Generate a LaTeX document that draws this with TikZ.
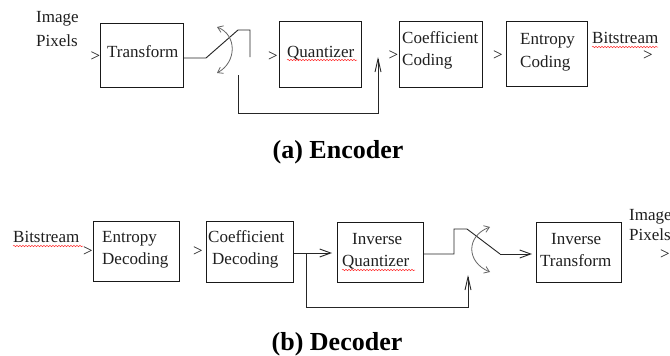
\documentclass[tikz,border=0pt]{standalone}
\usepackage{fontspec}
\setmainfont{Liberation Serif}
\usetikzlibrary{arrows.meta,decorations.pathmorphing}
\begin{document}
\begin{tikzpicture}[x=1pt,y=-1pt,
  box/.style={draw=black!90, line width=1.1pt, inner sep=0pt, anchor=north west},
  txt/.style={inner sep=0pt, anchor=base west, font=\fontsize{17}{20}\selectfont, text=black!88},
  gt/.style={inner sep=0pt, anchor=center, font=\fontsize{17}{20}\selectfont, text=black!90},
  capt/.style={inner sep=0pt, anchor=base, font=\fontsize{26}{30}\selectfont\bfseries, text=black},
  wire/.style={draw=black!85, line width=0.9pt},
  varrow/.style={wire, -{Straight Barb[length=13pt,width=6pt]}},
  harrow/.style={wire, -{Straight Barb[length=11pt,width=8pt]}},
  swarc/.style={draw=black!60, line width=0.8pt, {Straight Barb[length=5pt,width=7pt]}-{Straight Barb[length=5pt,width=7pt]}},
  squig/.style={draw=red!80, line width=0.5pt, decorate, decoration={snake, segment length=3pt, amplitude=0.7pt}}
]
\useasboundingbox (0,0) rectangle (670,356);
\clip (0,0) rectangle (670,356);
\fill[white] (0,0) rectangle (670,356);

% ---------------- Encoder ----------------
\node[box, minimum width=83pt, minimum height=64pt] (tr) at (100,23) {};
\node[box, minimum width=82pt, minimum height=66pt] (qu) at (279,21) {};
\node[box, minimum width=83pt, minimum height=66pt] (cc) at (399,21) {};
\node[box, minimum width=81pt, minimum height=65pt] (ec) at (506,21) {};

\node[txt] (imgA) at (36,23) {Image};
\node[txt] (pixA) at (36,46) {Pixels};
\node[txt] (trT) at (107,57) {Transform};
\node[txt] (quT) at (287,57) {Quantizer};
\node[txt] (ccT1) at (402,43) {Coefficient};
\node[txt] (ccT2) at (402,65) {Coding};
\node[txt] (ecT1) at (520,45) {Entropy};
\node[txt] (ecT2) at (520,67) {Coding};
\node[txt] (bsA) at (592,43) {Bitstream};

\node[gt] (gA1) at (95.5,57) {>};
\node[gt] (gA2) at (273,57) {>};
\node[gt] (gA3) at (393.5,56) {>};
\node[gt] (gA4) at (498,56) {>};
\node[gt] (gA5) at (648,56) {>};

\coordinate (e1) at (206,58);
\coordinate (e2) at (238,30);
\coordinate (e3) at (250,30);
\coordinate (e4) at (250,57);
\coordinate (e5) at (238,75);
\coordinate (e6) at (238,113);
\coordinate (e7) at (378,113);
\coordinate (e8) at (378,57);

\draw[wire] (tr.east |- e1) -- (e1) -- (e2) -- (e3) -- (e4);
\draw[varrow] (e5) -- (e6) -- (e7) -- (e8);
\draw[swarc] (217,27) .. controls (237,35) and (237,62) .. (217,73);

\draw[squig] (287,60) -- (357,60);
\draw[squig] (592,47) -- (658,47);

\node[capt] (capA) at (338,158) {(a) Encoder};

% ---------------- Decoder ----------------
\node[box, minimum width=86pt, minimum height=60pt] (ed) at (93,221) {};
\node[box, minimum width=87pt, minimum height=61pt] (cd) at (206,221) {};
\node[box, minimum width=86pt, minimum height=60pt] (iq) at (337,222) {};
\node[box, minimum width=85pt, minimum height=60pt] (it) at (536,222) {};

\node[txt] (bsB) at (13,242) {Bitstream};
\node[txt] (edT1) at (102,242) {Entropy};
\node[txt] (edT2) at (102,264) {Decoding};
\node[txt] (cdT1) at (208,242) {Coefficient};
\node[txt] (cdT2) at (212,264) {Decoding};
\node[txt] (iqT1) at (352,244) {Inverse};
\node[txt] (iqT2) at (342,266) {Quantizer};
\node[txt] (itT1) at (551,244) {Inverse};
\node[txt] (itT2) at (540,266) {Transform};
\node[txt] (imgB) at (629,220) {Image};
\node[txt] (pixB) at (629,240) {Pixels};

\node[gt] (gB1) at (88,252) {>};
\node[gt] (gB2) at (198,252) {>};
\node[gt] (gB3) at (665,254.5) {>};

\coordinate (d1) at (306,253);
\coordinate (d2) at (332,253);
\coordinate (d3) at (306,307);
\coordinate (d4) at (468,307);
\coordinate (d5) at (468,275);
\coordinate (d6) at (454,254);
\coordinate (d7) at (454,229);
\coordinate (d8) at (467,229);
\coordinate (d9) at (500,254);
\coordinate (d10) at (532,254);

\draw[harrow] (cd.east |- d1) -- (d2);
\draw[varrow] (d1) -- (d3) -- (d4) -- (d5);
\draw[wire] (iq.east |- d6) -- (d6) -- (d7) -- (d8) -- (d9);
\draw[harrow] (d9) -- (d10);
\draw[swarc] (490,227) .. controls (466,236) and (466,262) .. (490,272);

\draw[squig] (13,246) -- (83,246);
\draw[squig] (342,270) -- (415,270);

\node[capt] (capB) at (337,350) {(b) Decoder};
\end{tikzpicture}
\end{document}
